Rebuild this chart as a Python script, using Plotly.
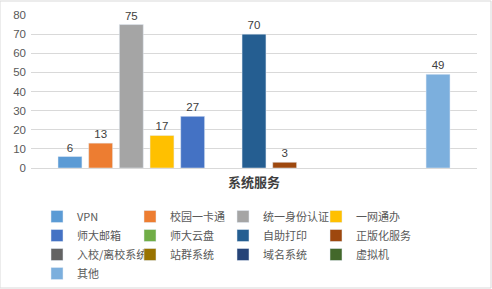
import plotly.graph_objects as go

categories = ["系统服务"]
series_names = ["VPN", "校园一卡通", "统一身份认证", "一网通办", "师大邮箱", "师大云盘",
                "自助打印", "正版化服务", "入校/离校系统", "站群系统", "域名系统", "虚拟机", "其他"]
series_values = [6, 13, 75, 17, 27, None, 70, 3, None, None, None, None, 49]
colors = ["#5B9BD5", "#ED7D31", "#A5A5A5", "#FFC000", "#4472C4", "#70AD47",
          "#255E91", "#9E480E", "#636363", "#997300", "#264478", "#43682B", "#7CAFDD"]
y_ticks = [0, 10, 20, 30, 40, 50, 60, 70, 80]

legend_ids = ["legend", "legend2", "legend3", "legend4"]

fig = go.Figure()
for i, (name, val, col) in enumerate(zip(series_names, series_values, colors)):
    fig.add_trace(go.Bar(
        x=categories, y=[val], name=name, marker_color=col,
        text=[val if val is not None else ""], textposition="outside",
        textfont=dict(size=11.5, color="#404040", family="Liberation Sans"),
        cliponaxis=False, legend=legend_ids[i % 4],
    ))

leg_common = dict(orientation="v", xref="container", yref="container",
                  xanchor="left", yanchor="top", traceorder="normal",
                  font=dict(size=11, color="#595959", family="Noto Sans CJK SC"),
                  itemwidth=30, tracegroupgap=0, bgcolor="rgba(0,0,0,0)")
col_x = [37, 130, 223, 316]
legends = {}
for lid, cx in zip(legend_ids, col_x):
    legends[lid] = dict(leg_common, x=cx / 492, y=1 - 202 / 289)

fig.update_layout(
    width=492, height=289,
    margin=dict(l=31, r=15, t=15, b=121, autoexpand=False),
    paper_bgcolor="white", plot_bgcolor="white",
    barmode="group", bargap=0.106, bargroupgap=0.22,
    showlegend=True,
    font=dict(family="Noto Sans CJK SC"),
    shapes=[dict(type="rect", xref="paper", yref="paper", x0=-31/446, x1=1+14/446,
                 y0=-120/153, y1=1+14/153, line=dict(color="#D9D9D9", width=1))],
    **legends,
)
fig.update_yaxes(range=[0, 80], tickvals=y_ticks, showgrid=True, gridcolor="#D9D9D9",
                 gridwidth=1, zeroline=False, showline=False, automargin=False,
                 ticklabelstandoff=4,
                 tickfont=dict(size=11.5, color="#595959", family="Liberation Sans"))
fig.update_xaxes(showline=True, linecolor="#D9D9D9", linewidth=1, showgrid=False,
                 ticks="", automargin=False, ticklabelstandoff=2,
                 tickfont=dict(size=13, color="#404040", family="Noto Sans CJK SC"),
                 tickvals=categories, ticktext=["<b>系统服务</b>"])

fig.write_html("out.html")
